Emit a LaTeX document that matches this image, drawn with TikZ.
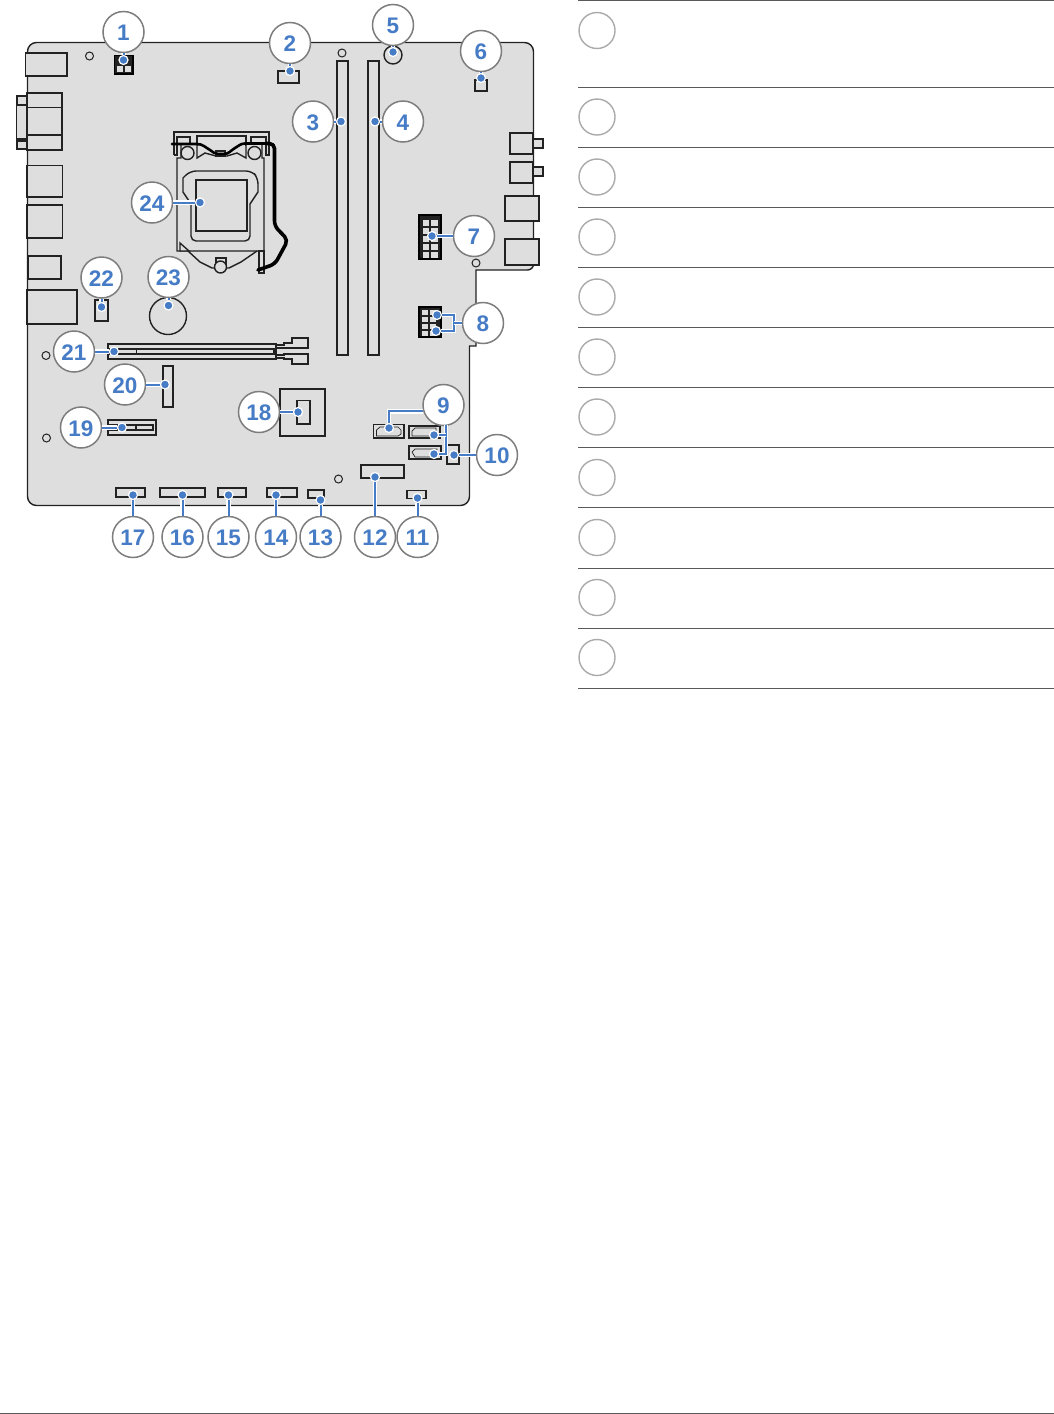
\documentclass[tikz,border=0pt]{standalone}
\usepackage{fontspec}
\setmainfont{Liberation Sans}
\definecolor{BoardGray}{RGB}{222,222,222}
\definecolor{PartBlack}{RGB}{34,34,34}
\definecolor{CalloutBlue}{RGB}{70,124,198}
\definecolor{BadgeGray}{RGB}{125,125,125}
\definecolor{RowGray}{RGB}{90,90,90}
\definecolor{RingGray}{RGB}{170,170,170}
\tikzset{
  part/.style={draw=PartBlack,line width=1.4pt,fill=BoardGray},
  pinblock/.style={draw=black,line width=1.2pt,fill=PartBlack},
  pincell/.style={draw=none,fill=BoardGray},
  hole/.style={draw=PartBlack,line width=1pt,fill=BoardGray},
  badge/.style={circle,draw=BadgeGray,line width=1.5pt,fill=white,minimum size=41pt,inner sep=0pt,
    text=CalloutBlue,text height=17.5pt,text depth=0pt,font=\fontsize{22.5}{22.5}\selectfont\bfseries},
  calldot/.style={circle,draw=white,line width=1.2pt,fill=CalloutBlue,minimum size=9pt,inner sep=0pt},
  leader/.style={draw=white,line width=1.4pt,double=CalloutBlue,double distance=2pt},
  ring/.style={circle,draw=RingGray,line width=1.4pt,minimum size=36pt,inner sep=0pt},
  rowline/.style={draw=RowGray,line width=1.1pt}
}
\begin{document}
\begin{tikzpicture}[x=1pt,y=-1pt]
\useasboundingbox (0,0) rectangle (1054,1414);
% board
\draw[part] (27.5,200) [rounded corners=9pt] -- (27.5,42.5) -- (533.5,42.5) [rounded corners=6pt] -- (533.5,270) [sharp corners] -- (476,270) -- (476,346) -- (469.5,346) [rounded corners=9pt] -- (469.5,505.5) -- (27.5,505.5) -- cycle;
% rear ports
\draw[part] (25.5,53) rectangle (67,76);
\draw[part] (17,96) rectangle (27,105);
\draw[part] (16.5,105) rectangle (27,139);
\draw[part] (17,141) rectangle (27,149);
\draw[part] (27,93) rectangle (62,150);
\draw[part] (27,107.5) -- (62,107.5);
\draw[part] (27,135) -- (62,135);
\draw[part] (27,165.5) rectangle (62.5,197);
\draw[part] (27,205) rectangle (62.5,238);
\draw[part] (28.5,256) rectangle (61,279);
\draw[part] (27,290) rectangle (77,324);
\draw[part] (510,133) rectangle (533,154);
\draw[part] (533,139) rectangle (543,148);
\draw[part] (510,162) rectangle (533,183);
\draw[part] (533,167) rectangle (543,176);
\draw[part] (505,196) rectangle (539,221);
\draw[part] (505,239) rectangle (539,265);
% mounting holes
\draw[hole] (89.5,56) circle(4);
\draw[hole] (342,53) circle(4);
\draw[hole] (476,263) circle(4);
\draw[hole] (46,355.5) circle(4);
\draw[hole] (46.5,438) circle(4);
\draw[hole] (338.5,479) circle(4);
% memory slots
\draw[part] (337,61) rectangle (348,355);
\draw[part] (368,61) rectangle (379,355);
% cpu socket
\draw[part,fill=none] (174,155) -- (174,132) -- (269,132) -- (269,155) -- (266,155) -- (266,137) -- (251,137) -- (251,146);
\draw[part,fill=none] (190,146) -- (190,137) -- (177,137) -- (177,155) -- (174,155);
\draw[part,fill=none] (197,146) -- (197,136) -- (246,136) -- (246,146);
\draw[part] (177,170) -- (177,158) -- (181,158) -- (181,144) -- (197,144) -- (197,158) -- (205,153) -- (216,156) -- (227,156) -- (237,153) -- (246,158) -- (246,144) -- (262,144) -- (262,158) -- (264,158) -- (264,251) -- (177,251) -- cycle;
\draw[part] (183,178) [rounded corners=6pt] -- (190,171) -- (252,171) -- (258,178) [sharp corners] -- (258,192) -- (250,204) [rounded corners=5pt] -- (250,241) -- (191,241) [sharp corners] -- (191,204) -- (183,192) -- cycle;
\draw[part] (196,180) rectangle (247,231);
\draw[part] (180,243) -- (180,251) -- (189,251) -- cycle;
\draw[part,fill=none] (188,251) -- (200,262) -- (212,268) -- (229,268) -- (241,262) -- (257,251);
\draw[part] (216,258) rectangle (226,268);
\draw[part] (220.5,267) circle(6);
\draw[part] (259,251) rectangle (264,273);
\draw[part] (187.5,153) circle(6.5);
\draw[part] (254.5,153) circle(6.5);
\draw[part] (216,151) rectangle (225,156);
\draw[black,line width=2.6pt,line cap=round,line join=round] (172,144) -- (197,144) to[out=0,in=150] (210,150) to[out=-30,in=180] (218,154) -- (224,154) to[out=0,in=-150] (235,148) to[out=30,in=180] (245,143.5) -- (269,143.5);
\draw[black,line width=3.6pt,line cap=round,line join=round,rounded corners=5pt] (266,143.5) -- (274.5,143.5) -- (274.5,226) -- (288,240) -- (275,264) -- (258,270);
% small headers
\draw[pinblock] (114.5,55.5) rectangle (133,74);
\draw[pincell] (117,66) rectangle (122.5,72);
\draw[pincell] (125,66) rectangle (130.5,72);
\draw[part] (278,71) rectangle (299,83);
\draw[part] (475,80) rectangle (487,91);
\draw[pinblock] (419,215) rectangle (441,259);
\foreach \cy in {220,228,236,244,252} {
  \draw[pincell] (422.5,\cy) rectangle (429,\cy+6);
  \draw[pincell] (431,\cy) rectangle (437.5,\cy+6);
}
\draw[pinblock] (419,307) rectangle (441,337);
\foreach \cy in {310,317,324,331} {
  \draw[pincell] (422,\cy) rectangle (428,\cy+5);
  \draw[pincell] (430,\cy) rectangle (436,\cy+5);
}
% sata and front headers
\draw[part] (373.5,424.5) rectangle (404,438);
\draw[part,line width=.7pt] (376.5,436) -- (376.5,430) -- (380,427) -- (398,427) -- (401,430) -- (401,434) -- (398,436) -- cycle;
\draw[part] (409,426) rectangle (440,438);
\draw[part,line width=.7pt] (412,436) -- (412,431) -- (415,428) -- (436,428) -- (436,436) -- cycle;
\draw[part] (409,446) rectangle (441,459);
\draw[part,line width=.7pt] (412,452) -- (415,449) -- (437,449) -- (437,457) -- (415,457) -- cycle;
\draw[part] (447,445) rectangle (459,464);
\draw[part] (361,465) rectangle (404,478);
\draw[part] (407,490.5) rectangle (426,498.5);
\draw[part] (308,490) rectangle (324,498);
\draw[part] (267,488) rectangle (297,497);
\draw[part] (218,488) rectangle (246,497);
\draw[part] (160,488) rectangle (205,497);
\draw[part] (116,488) rectangle (145,497);
% chip and slots
\draw[part] (280,389) rectangle (325,436);
\draw[part] (297,400.5) rectangle (310,424);
\draw[part] (108,420) rectangle (156,435);
\draw[part] (108,425) rectangle (153,430);
\draw[part] (136,425) -- (136,430);
\draw[part] (163,366) rectangle (173,407);
\draw[part] (276,345) -- (284,345) -- (284,343) -- (292,343) -- (292,338) -- (308,338) -- (308,348) -- (284,348) -- (276,348);
\draw[part] (276,355) -- (284,355) -- (284,354) -- (308,354) -- (308,364) -- (292,364) -- (292,359) -- (284,359) -- (284,358) -- (276,358);
\draw[part] (108,344) rectangle (276,359);
\draw[part] (108,349) rectangle (274,354);
\draw[part] (136.5,349) -- (136.5,354);
\draw[part] (95,300) rectangle (108,321);
\draw[part] (168,316) circle(18.5);
\draw[part] (393,55) circle(9);
% table on the right
\foreach \ly in {0.5,87.5,147.5,207.5,267.5,327.5,387.5,447.5,507.5,568.5,628.5,688.5} {
  \draw[rowline] (578,\ly) -- (1054,\ly);
}
\foreach \ry [count=\ri] in {30.5,117,177,237,297,357,417,477.5,537.5,597.5,657.5} {
  \node[ring] (row\ri) at (597,\ry) {};
}
\draw[rowline] (0,1413.3) -- (1054,1413.3);
% callout dots
\node[calldot] (d1) at (123.5,60) {};
\node[calldot] (d2) at (290,71) {};
\node[calldot] (d3) at (341,121.5) {};
\node[calldot] (d4) at (375,121.5) {};
\node[calldot] (d5) at (393,52) {};
\node[calldot] (d6) at (481,78) {};
\node[calldot] (d7) at (432,236) {};
\node[calldot] (d8a) at (437,315) {};
\node[calldot] (d8b) at (436,331) {};
\node[calldot] (d9a) at (389,428) {};
\node[calldot] (d9b) at (434,435) {};
\node[calldot] (d9c) at (434,454) {};
\node[calldot] (d10) at (454,455) {};
\node[calldot] (d11) at (417.5,498) {};
\node[calldot] (d12) at (375,477) {};
\node[calldot] (d13) at (320.5,500) {};
\node[calldot] (d14) at (276,495) {};
\node[calldot] (d15) at (228.5,495) {};
\node[calldot] (d16) at (182.5,495) {};
\node[calldot] (d17) at (133,495) {};
\node[calldot] (d18) at (298,412) {};
\node[calldot] (d19) at (122,427.5) {};
\node[calldot] (d20) at (165,384.5) {};
\node[calldot] (d21) at (114,351.5) {};
\node[calldot] (d22) at (101.5,307) {};
\node[calldot] (d23) at (168.5,305.5) {};
\node[calldot] (d24) at (200,202.5) {};
% callout badges
\node[badge] (b1) at (123.5,32) {1};
\node[badge] (b2) at (290,43) {2};
\node[badge] (b3) at (313,121.5) {3};
\node[badge] (b4) at (403,121.5) {4};
\node[badge] (b5) at (393,25) {5};
\node[badge] (b6) at (481,51) {6};
\node[badge] (b7) at (474,236) {7};
\node[badge] (b8) at (483,323) {8};
\node[badge] (b9) at (443.5,405) {9};
\node[badge] (b10) at (497,455) {10};
\node[badge] (b11) at (417.5,537) {11};
\node[badge] (b12) at (375,537) {12};
\node[badge] (b13) at (320.5,537) {13};
\node[badge] (b14) at (276,537) {14};
\node[badge] (b15) at (228.5,537) {15};
\node[badge] (b16) at (182.5,537) {16};
\node[badge] (b17) at (133,537) {17};
\node[badge] (b18) at (259,412) {18};
\node[badge] (b19) at (81,427.5) {19};
\node[badge] (b20) at (125,384.5) {20};
\node[badge] (b21) at (74,351.5) {21};
\node[badge] (b22) at (101.5,277.5) {22};
\node[badge] (b23) at (168.5,277) {23};
\node[badge] (b24) at (152,202.5) {24};
% leaders
\coordinate (j8) at (454,323);
\coordinate (j9) at (446,425);
\foreach \n in {1,2,3,4,5,6,7,10,11,12,13,14,15,16,17,18,19,20,21,22,23,24} {
  \draw[leader] (b\n) -- (d\n);
}
\draw[leader] (d8a) -- (d8a -| j8) -- (d8b -| j8) -- (d8b);
\draw[leader] (j8) -- (b8);
\draw[leader] (d9a) |- (b9.197);
\draw[leader] (j9) |- (d9c);
\draw[leader] (d9b) -- (d9b -| j9);
\end{tikzpicture}
\end{document}
